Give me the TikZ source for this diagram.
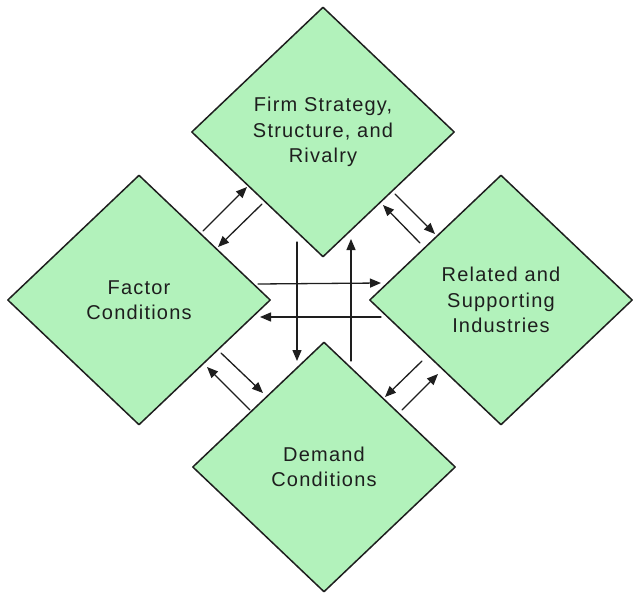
\documentclass[tikz,border=0pt]{standalone}
\usepackage{fontspec}
\setmainfont{Liberation Sans}[LetterSpace=6]
\usetikzlibrary{shapes.geometric,arrows.meta}
\definecolor{dfill}{HTML}{B2F2BB}
\definecolor{ink}{HTML}{1E1E1E}
\begin{document}
\begin{tikzpicture}[x=1pt,y=-1pt,
  dia/.style={diamond, draw=ink, fill=dfill, line width=1.5pt,
    minimum width=263pt, minimum height=250pt, inner sep=0pt,
    align=center, text=ink, line join=round,
    font=\fontsize{20}{25.5}\selectfont},
  arr/.style={draw=ink, line width=1.3pt, line cap=round,
    -{Triangle[length=11pt,width=9pt]}}]
\useasboundingbox (0,0) rectangle (640,599);

% diamonds
\node[dia] (fs) at (323,132) {Firm Strategy,\\Structure, and\\Rivalry};
\node[dia] (fc) at (139,300) {Factor\\Conditions};
\node[dia] (rs) at (501,300) {Related and\\Supporting\\ Industries};
\node[dia] (dc) at (324,467) {Demand\\Conditions};

% arrow end points
\coordinate (a1s) at (203,231); \coordinate (a1e) at (247,187);
\coordinate (a2s) at (262,204); \coordinate (a2e) at (218,247);
\coordinate (b1s) at (420,243); \coordinate (b1e) at (383,205);
\coordinate (b2s) at (395,194); \coordinate (b2e) at (435,234);
\coordinate (c1s) at (297,242); \coordinate (c1e) at (297,361);
\coordinate (c2s) at (351,361); \coordinate (c2e) at (351,239);
\coordinate (h1s) at (258,284); \coordinate (h1e) at (381,283);
\coordinate (h2s) at (381,317); \coordinate (h2e) at (260,317);
\coordinate (d1s) at (221,353); \coordinate (d1e) at (263,393);
\coordinate (d2s) at (250,410); \coordinate (d2e) at (207,367);
\coordinate (e1s) at (422,361); \coordinate (e1e) at (385,397);
\coordinate (e2s) at (402,410); \coordinate (e2e) at (438,374);

% connectors
\draw[arr] (a1s) -- (a1e);
\draw[arr] (a2s) -- (a2e);
\draw[arr] (b1s) -- (b1e);
\draw[arr] (b2s) -- (b2e);
\draw[arr] (c1s) -- (c1e);
\draw[arr] (c2s) -- (c2e);
\draw[arr] (h1s) -- (h1e);
\draw[arr] (h2s) -- (h2e);
\draw[arr] (d1s) -- (d1e);
\draw[arr] (d2s) -- (d2e);
\draw[arr] (e1s) -- (e1e);
\draw[arr] (e2s) -- (e2e);
\end{tikzpicture}
\end{document}
